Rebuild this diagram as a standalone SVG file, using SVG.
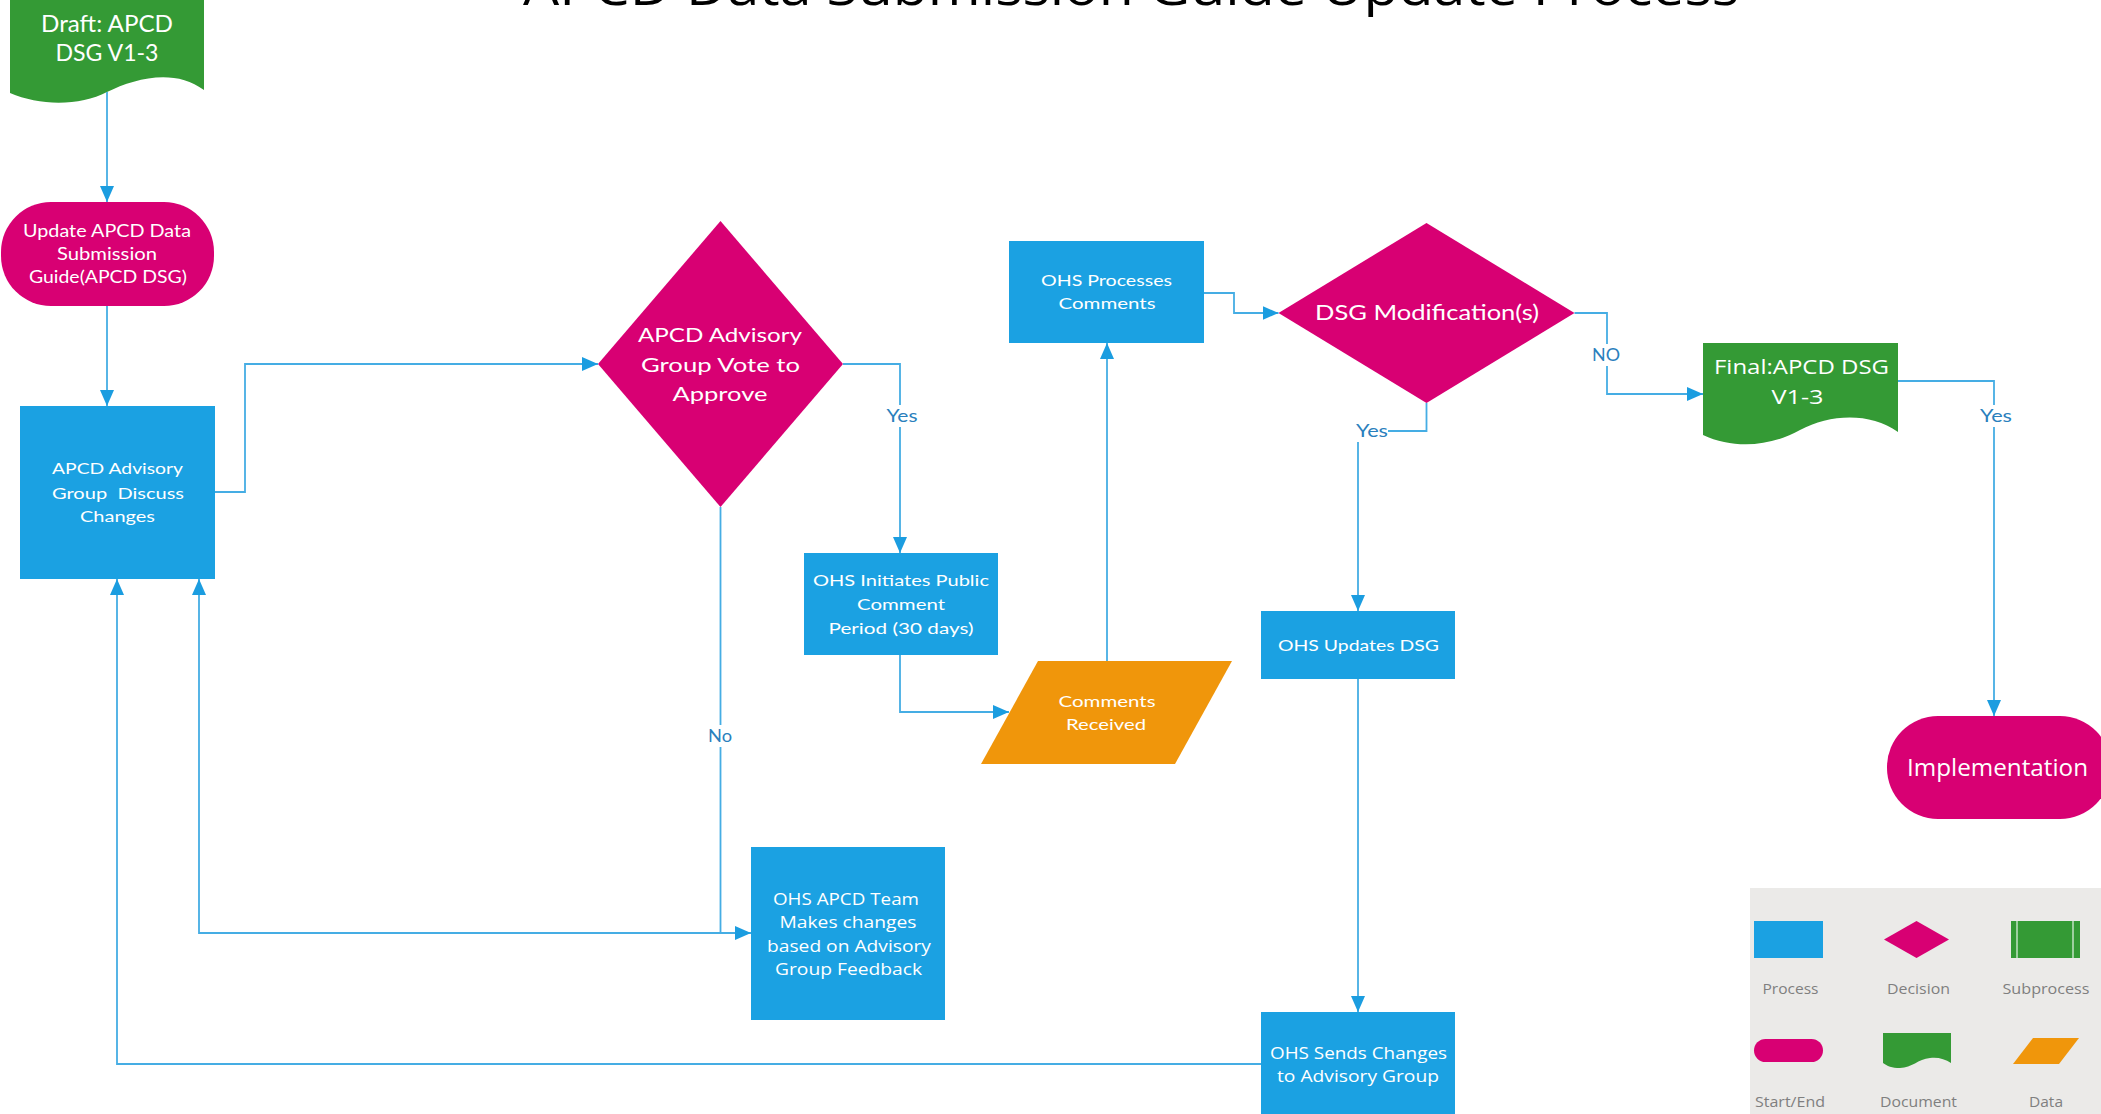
<svg xmlns="http://www.w3.org/2000/svg" width="2101" height="1114" viewBox="0 0 2101 1114">
<defs>
<style>
.proc{fill:#1BA1E2}
.dec{fill:#D80073}
.doc{fill:#349A35}
.data{fill:#F0960B}
.tc{font-family:Lato,"Liberation Sans",sans-serif;fill:#ffffff;text-anchor:middle}
.ts{font-family:"Open Sans","Noto Sans",sans-serif;fill:#ffffff;text-anchor:middle}
.conn{fill:none;stroke:#45ADE4;stroke-width:1.8}
.lbl{font-family:Lato,"Liberation Sans",sans-serif;font-size:17px;fill:#2A80BD;text-anchor:middle}
.lblbg{fill:#ffffff}
.leg{font-family:"Open Sans","Noto Sans",sans-serif;font-size:14px;fill:#7F7F7F;text-anchor:middle}
</style>
<marker id="arr" viewBox="0 0 16 14" refX="16" refY="7" markerWidth="16" markerHeight="14" markerUnits="userSpaceOnUse" orient="auto">
<path d="M0,0 L16,7 L0,14 z" fill="#1B9DE0"/>
</marker>
</defs>
<rect width="2101" height="1114" fill="#ffffff"/>

<g id="title">
<text x="1131" y="5" font-family="'Open Sans','Noto Sans',sans-serif" font-size="52" fill="#000000" text-anchor="middle" textLength="1216" lengthAdjust="spacingAndGlyphs">APCD Data Submission Guide Update Process</text>
</g>

<g id="draft">
<path class="doc" d="M10,-2 H204 V90 C175,68 135,78 107,92 C80,106 40,106 10,93 Z"/>
<text class="tc" x="107" y="32" font-size="23" textLength="132" lengthAdjust="spacingAndGlyphs">Draft: APCD</text>
<text class="tc" x="107" y="61" font-size="23" textLength="103" lengthAdjust="spacingAndGlyphs">DSG V1-3</text>
</g>

<g id="update">
<rect class="dec" x="1" y="202" width="213" height="104" rx="50" ry="50"/>
<text class="tc" x="107" y="237" font-size="17" textLength="168" lengthAdjust="spacingAndGlyphs">Update APCD Data</text>
<text class="tc" x="107" y="260" font-size="17" textLength="100" lengthAdjust="spacingAndGlyphs">Submission</text>
<text class="tc" x="108" y="283" font-size="17" textLength="158" lengthAdjust="spacingAndGlyphs">Guide(APCD DSG)</text>
</g>

<g id="discuss">
<rect class="proc" x="20" y="406" width="195" height="173"/>
<text class="tc" x="117.5" y="474" font-size="16" textLength="131" lengthAdjust="spacingAndGlyphs">APCD Advisory</text>
<text class="tc" x="118" y="499" font-size="16" textLength="132" lengthAdjust="spacingAndGlyphs" style="white-space:pre">Group  Discuss</text>
<text class="tc" x="117.5" y="522" font-size="16" textLength="75" lengthAdjust="spacingAndGlyphs">Changes</text>
</g>

<g id="vote">
<polygon class="dec" points="720.5,221 843,364 720.5,507 598,364"/>
<text class="tc" x="720" y="342" font-size="20" textLength="164" lengthAdjust="spacingAndGlyphs">APCD Advisory</text>
<text class="tc" x="720.5" y="372" font-size="20" textLength="159" lengthAdjust="spacingAndGlyphs">Group Vote to</text>
<text class="tc" x="720" y="401" font-size="20" textLength="95" lengthAdjust="spacingAndGlyphs">Approve</text>
</g>

<g id="initiates">
<rect class="proc" x="804" y="553" width="194" height="102"/>
<text class="tc" x="901" y="586" font-size="16" textLength="176" lengthAdjust="spacingAndGlyphs">OHS Initiates Public</text>
<text class="tc" x="901" y="610" font-size="16" textLength="88" lengthAdjust="spacingAndGlyphs">Comment</text>
<text class="tc" x="901" y="634" font-size="16" textLength="145" lengthAdjust="spacingAndGlyphs">Period (30 days)</text>
</g>

<g id="comments-received">
<polygon class="data" points="1038,661 1232,661 1175,764 981,764"/>
<text class="tc" x="1107" y="707" font-size="16" textLength="97" lengthAdjust="spacingAndGlyphs">Comments</text>
<text class="tc" x="1106" y="730" font-size="16" textLength="80" lengthAdjust="spacingAndGlyphs">Received</text>
</g>

<g id="processes">
<rect class="proc" x="1009" y="241" width="195" height="102"/>
<text class="tc" x="1106.5" y="286" font-size="16" textLength="131" lengthAdjust="spacingAndGlyphs">OHS Processes</text>
<text class="tc" x="1107" y="309" font-size="16" textLength="97" lengthAdjust="spacingAndGlyphs">Comments</text>
</g>

<g id="dsg-mod">
<polygon class="dec" points="1426.5,223 1574.5,313 1426.5,403 1278.5,313"/>
<text class="tc" x="1427" y="320" font-size="21" textLength="224" lengthAdjust="spacingAndGlyphs">DSG Modification(s)</text>
</g>

<g id="final">
<path class="doc" d="M1703,343 H1898 V432 C1870,412 1830,414 1800,430 C1772,446 1735,450 1703,435 Z"/>
<text class="ts" x="1801.5" y="374" font-size="20" textLength="175" lengthAdjust="spacingAndGlyphs">Final:APCD DSG</text>
<text class="ts" x="1797.5" y="404" font-size="20" textLength="52" lengthAdjust="spacingAndGlyphs">V1-3</text>
</g>

<g id="implementation">
<rect class="dec" x="1887" y="716" width="224" height="103" rx="51" ry="51"/>
<text class="ts" x="1997.5" y="776" font-size="23" textLength="181" lengthAdjust="spacingAndGlyphs">Implementation</text>
</g>

<g id="updates-dsg">
<rect class="proc" x="1261" y="611" width="194" height="68"/>
<text class="tc" x="1358.5" y="651" font-size="16" textLength="161" lengthAdjust="spacingAndGlyphs">OHS Updates DSG</text>
</g>

<g id="team">
<rect class="proc" x="751" y="847" width="194" height="173"/>
<text class="ts" x="846" y="905" font-size="17" textLength="146" lengthAdjust="spacingAndGlyphs">OHS APCD Team</text>
<text class="ts" x="848" y="928" font-size="17" textLength="137" lengthAdjust="spacingAndGlyphs">Makes changes</text>
<text class="ts" x="849" y="952" font-size="17" textLength="164" lengthAdjust="spacingAndGlyphs">based on Advisory</text>
<text class="ts" x="848.5" y="975" font-size="17" textLength="147" lengthAdjust="spacingAndGlyphs">Group Feedback</text>
</g>

<g id="sends">
<rect class="proc" x="1261" y="1012" width="194" height="110"/>
<text class="ts" x="1358.5" y="1059" font-size="17" textLength="177" lengthAdjust="spacingAndGlyphs">OHS Sends Changes</text>
<text class="ts" x="1358" y="1082" font-size="17" textLength="162" lengthAdjust="spacingAndGlyphs">to Advisory Group</text>
</g>

<g id="legend">
<rect x="1750" y="888" width="351" height="226" fill="#EBEAE8"/>
<rect class="proc" x="1754" y="921" width="69" height="37"/>
<polygon class="dec" points="1916.5,921 1949,939.5 1916.5,958 1884,939.5"/>
<rect class="doc" x="2011" y="921" width="69" height="37"/>
<line x1="2017" y1="921" x2="2017" y2="958" stroke="#ffffff" stroke-width="1.5" opacity="0.7"/>
<line x1="2073" y1="921" x2="2073" y2="958" stroke="#ffffff" stroke-width="1.5" opacity="0.7"/>
<rect class="dec" x="1754" y="1039" width="69" height="23" rx="11.5" ry="11.5"/>
<path class="doc" d="M1883,1033 H1951 V1063 C1945,1059 1938,1057 1930,1058 C1918,1059 1912,1068 1900,1068 C1892,1068 1887,1066 1883,1063 Z"/>
<polygon class="data" points="2013,1064 2033,1038 2079,1038 2059,1064"/>
<text class="leg" x="1790.5" y="994" textLength="56" lengthAdjust="spacingAndGlyphs">Process</text>
<text class="leg" x="1918.5" y="994" textLength="63" lengthAdjust="spacingAndGlyphs">Decision</text>
<text class="leg" x="2046" y="994" textLength="87" lengthAdjust="spacingAndGlyphs">Subprocess</text>
<text class="leg" x="1790" y="1107" textLength="70" lengthAdjust="spacingAndGlyphs">Start/End</text>
<text class="leg" x="1918.5" y="1107" textLength="77" lengthAdjust="spacingAndGlyphs">Document</text>
<text class="leg" x="2046" y="1107" textLength="34" lengthAdjust="spacingAndGlyphs">Data</text>
</g>

<g id="connectors">
<path class="conn" d="M107,92 V202" marker-end="url(#arr)"/>
<path class="conn" d="M107,306 V406" marker-end="url(#arr)"/>
<path class="conn" d="M215,492 H245 V364 H598" marker-end="url(#arr)"/>
<path class="conn" d="M843,364 H900 V553" marker-end="url(#arr)"/>
<path class="conn" d="M720.5,507 V933 H751" marker-end="url(#arr)"/>
<path class="conn" d="M720.5,933 H199 V579" marker-end="url(#arr)"/>
<path class="conn" d="M900,655 V712 H1009" marker-end="url(#arr)"/>
<path class="conn" d="M1107,661 V343" marker-end="url(#arr)"/>
<path class="conn" d="M1204,293 H1234 V313 H1278.5" marker-end="url(#arr)"/>
<path class="conn" d="M1574.5,313 H1607 V394 H1703" marker-end="url(#arr)"/>
<path class="conn" d="M1426.5,403 V431 H1358 V611" marker-end="url(#arr)"/>
<path class="conn" d="M1358,679 V1012" marker-end="url(#arr)"/>
<path class="conn" d="M1261,1064 H117 V579" marker-end="url(#arr)"/>
<path class="conn" d="M1898,381 H1994 V716" marker-end="url(#arr)"/>
<rect class="lblbg" x="885" y="405" width="34" height="22"/>
<text class="lbl" x="902" y="422" textLength="31" lengthAdjust="spacingAndGlyphs">Yes</text>
<rect class="lblbg" x="706" y="725" width="28" height="22"/>
<text class="lbl" x="720" y="742" textLength="24" lengthAdjust="spacingAndGlyphs">No</text>
<rect class="lblbg" x="1591" y="344" width="32" height="22"/>
<text class="lbl" x="1606" y="361" textLength="28" lengthAdjust="spacingAndGlyphs">NO</text>
<rect class="lblbg" x="1354" y="420" width="34" height="22"/>
<text class="lbl" x="1372" y="437" textLength="32" lengthAdjust="spacingAndGlyphs">Yes</text>
<rect class="lblbg" x="1978" y="405" width="36" height="22"/>
<text class="lbl" x="1996" y="422" font-family="'Open Sans','Noto Sans',sans-serif" font-size="16" textLength="32" lengthAdjust="spacingAndGlyphs">Yes</text>
</g>
</svg>
